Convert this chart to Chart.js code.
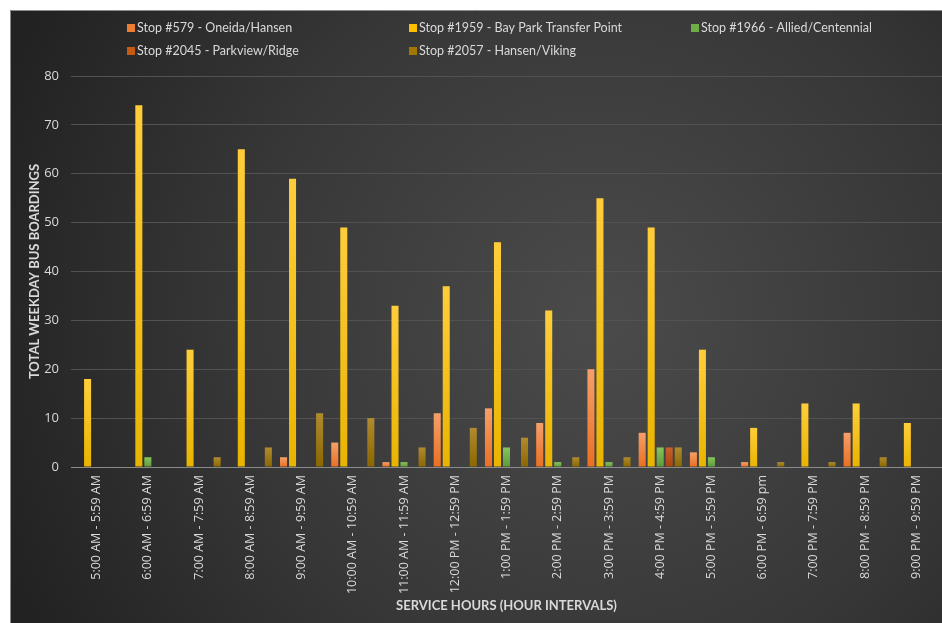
<!DOCTYPE html>
<html lang="en">
<head>
<meta charset="UTF-8">
<title>Weekday Bus Boardings by Service Hour</title>
<script src="https://cdn.jsdelivr.net/npm/chart.js"></script>
<style>
  body { margin: 0; background: #fff; }
  #wrap { width: 942px; height: 623px; }
</style>
</head>
<body>
<div id="wrap"><canvas id="myChart" width="942" height="623"></canvas></div>

<script>
// hour intervals along the x axis
const horas = [
  '5:00 AM - 5:59 AM', '6:00 AM - 6:59 AM', '7:00 AM - 7:59 AM', '8:00 AM - 8:59 AM',
  '9:00 AM - 9:59 AM', '10:00 AM - 10:59 AM', '11:00 AM - 11:59 AM', '12:00 PM - 12:59 PM',
  '1:00 PM - 1:59 PM', '2:00 PM - 2:59 PM', '3:00 PM - 3:59 PM', '4:00 PM - 4:59 PM',
  '5:00 PM - 5:59 PM', '6:00 PM - 6:59 pm', '7:00 PM - 7:59 PM', '8:00 PM - 8:59 PM',
  '9:00 PM - 9:59 PM'
];

// boardings per stop
const stop579  = [0, 0, 0, 0, 2, 5, 1, 11, 12, 9, 20, 7, 3, 1, 0, 7, 0];
const stop1959 = [18, 74, 24, 65, 59, 49, 33, 37, 46, 32, 55, 49, 24, 8, 13, 13, 9];
const stop1966 = [0, 2, 0, 0, 0, 0, 1, 0, 4, 1, 1, 4, 2, 0, 0, 0, 0];
const stop2045 = [0, 0, 0, 0, 0, 0, 0, 0, 0, 0, 0, 4, 0, 0, 0, 0, 0];
const stop2057 = [0, 0, 2, 4, 11, 10, 4, 8, 6, 2, 2, 4, 0, 1, 1, 2, 0];

const nomes = [
  'Stop #579 - Oneida/Hansen',
  'Stop #1959 - Bay Park Transfer Point',
  'Stop #1966 - Allied/Centennial',
  'Stop #2045 - Parkview/Ridge',
  'Stop #2057 - Hansen/Viking'
];

const yTicks = [0, 10, 20, 30, 40, 50, 60, 70, 80];

// colours: legend swatch, bar top, bar bottom
const cores = [
  { solid: '#ed7d31', top: '#f5a06a', bottom: '#ea6f22' },
  { solid: '#ffc000', top: '#ffcd3a', bottom: '#e9b400' },
  { solid: '#70ad47', top: '#86c45c', bottom: '#5e9a38' },
  { solid: '#c55a11', top: '#c8602a', bottom: '#a6460e' },
  { solid: '#a07800', top: '#b08b30', bottom: '#8a6700' }
];

const textColor = '#d9d9d9';

// vertical gradient for each bar, from its top down to zero
function barFill(c) {
  return function (context) {
    const chart = context.chart;
    if (!chart.chartArea || !context.parsed) return c.bottom;
    const y = chart.scales.y;
    const top = y.getPixelForValue(context.parsed.y);
    const base = y.getPixelForValue(0);
    if (base - top < 1) return c.bottom;
    const g = chart.ctx.createLinearGradient(0, top, 0, base);
    g.addColorStop(0, c.top);
    g.addColorStop(1, c.bottom);
    return g;
  };
}

// white margin + dark panel with soft radial light
const fundo = {
  id: 'fundo',
  beforeDraw(chart) {
    const ctx = chart.ctx;
    const w = chart.width, h = chart.height;
    ctx.save();
    ctx.fillStyle = '#ffffff';
    ctx.fillRect(0, 0, w, h);
    const g = ctx.createRadialGradient(600, 320, 20, 600, 320, 640);
    g.addColorStop(0, '#4a4a4a');
    g.addColorStop(0.55, '#373737');
    g.addColorStop(1, '#222222');
    ctx.fillStyle = g;
    ctx.fillRect(10, 10, w - 10, h - 10);
    ctx.strokeStyle = '#8c8c8c';
    ctx.lineWidth = 1;
    ctx.beginPath();
    ctx.moveTo(10.5, h);
    ctx.lineTo(10.5, 10.5);
    ctx.lineTo(w, 10.5);
    ctx.stroke();
    ctx.restore();
  }
};

// legend in a fixed grid: 3 columns, 2 rows
const legenda = {
  id: 'legenda',
  afterDraw(chart) {
    const ctx = chart.ctx;
    ctx.save();
    ctx.font = '12.5px Lato';
    ctx.textBaseline = 'middle';
    ctx.textAlign = 'left';
    chart.data.datasets.forEach(function (ds, i) {
      const col = i % 3, row = Math.floor(i / 3);
      const x = 127 + col * 282;
      const y = 28 + row * 23;
      ctx.fillStyle = cores[i].solid;
      ctx.fillRect(x, y - 4, 8, 8);
      ctx.fillStyle = textColor;
      ctx.fillText(ds.label, x + 10, y);
    });
    ctx.restore();
  }
};

const datasets = [stop579, stop1959, stop1966, stop2045, stop2057].map(function (valores, i) {
  return {
    label: nomes[i],
    data: valores,
    backgroundColor: barFill(cores[i]),
    borderWidth: 0,
    categoryPercentage: 0.88,
    barPercentage: 0.78
  };
});

new Chart(document.getElementById('myChart'), {
  type: 'bar',
  data: { labels: horas, datasets: datasets },
  options: {
    responsive: false,
    animation: false,
    layout: { padding: { top: 76, left: 27, right: 0, bottom: 9 } },
    plugins: {
      legend: { display: false },
      tooltip: { enabled: false }
    },
    scales: {
      x: {
        grid: { display: false, drawTicks: false },
        border: { color: '#8a8a8a', width: 1 },
        ticks: {
          color: textColor,
          font: { family: 'Open Sans', size: 12.5 },
          minRotation: 90,
          maxRotation: 90,
          padding: 8,
          autoSkip: false
        },
        title: {
          display: true,
          text: 'SERVICE HOURS (HOUR INTERVALS)',
          color: textColor,
          font: { family: 'Lato', size: 13, weight: 'bold' },
          padding: { top: 6, bottom: 0 }
        },
        afterFit(axis) { axis.height = 147; }
      },
      y: {
        min: 0,
        max: 80,
        afterBuildTicks(axis) {
          axis.ticks = yTicks.map(function (v) { return { value: v }; });
        },
        grid: { color: '#525252', drawTicks: false },
        border: { display: false },
        ticks: {
          color: textColor,
          font: { family: 'Open Sans', size: 13 },
          padding: 12
        },
        title: {
          display: true,
          text: 'TOTAL WEEKDAY BUS BOARDINGS',
          color: textColor,
          font: { family: 'Lato', size: 13, weight: 'bold' },
          padding: 0
        },
        afterFit(axis) { axis.width = 44; }
      }
    }
  },
  plugins: [fundo, legenda]
});
</script>
</body>
</html>
